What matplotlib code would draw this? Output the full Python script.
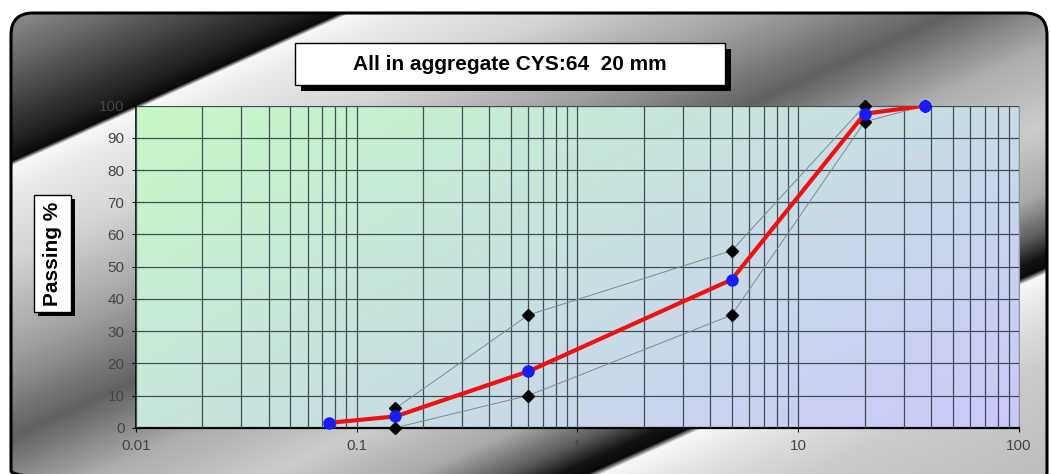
import matplotlib
matplotlib.use("Agg")
import matplotlib.pyplot as plt
import numpy as np
from matplotlib.patches import FancyBboxPatch, Rectangle

# sieve sizes (mm) and passing %
sieve_mm = [0.075, 0.15, 0.6, 5, 20, 37.5]
passing = [1.5, 3.5, 17.5, 46, 97.5, 100]

env_sieve = [0.15, 0.6, 5, 20, 37.5]
upper_limit = [6, 35, 55, 100, 100]
lower_limit = [0, 10, 35, 95, 100]

title = "All in aggregate CYS:64  20 mm"
ylabel = "Passing %"
x_ticks = [0.01, 0.1, 1, 10, 100]
x_tick_labels = ["0.01", "0.1", "1", "10", "100"]
y_ticks = list(range(0, 101, 10))

W, H = 1051, 474
plt.rcParams["font.family"] = ["Liberation Sans", "DejaVu Sans"]
fig = plt.figure(figsize=(W / 100, H / 100), dpi=100)

# metallic chart background, drawn in pixel coordinates
bg = fig.add_axes([0, 0, 1, 1])
bg.set_xlim(0, W)
bg.set_ylim(H, 0)
bg.axis("off")
xx, yy = np.meshgrid(np.arange(W), np.arange(H))
s = xx + 2.22 * yy
stops = [0, 150, 330, 368, 378, 430, 575, 800, 980, 1150, 1320, 1470, 1560, 1610, 1638, 1652, 1720, 1850, 2110]
shade = [0.62, 0.4, 0.12, 0.04, 0.97, 0.92, 0.84, 0.62, 0.38, 0.68, 0.8, 0.66, 0.35, 0.08, 0.04, 0.97, 0.9, 0.8, 0.74]
g = np.interp(s, stops, shade)
img = np.dstack([g, g, g])
im = bg.imshow(img, extent=[0, W, H, 0], aspect="auto", interpolation="bilinear", zorder=0)
frame = FancyBboxPatch((11, 13), 1036, 480, boxstyle="round,pad=0,rounding_size=22",
                       facecolor="none", edgecolor="black", linewidth=2.2, zorder=2)
bg.add_patch(frame)
im.set_clip_path(frame)

# title box with shadow
bg.add_patch(Rectangle((301, 49), 430, 42, facecolor="black", edgecolor="none", zorder=3))
bg.add_patch(Rectangle((295, 43), 430, 42, facecolor="white", edgecolor="black", linewidth=1, zorder=4))
bg.text(510, 64, title, ha="center", va="center", fontsize=15, fontweight="bold", zorder=5)

# y label box with shadow
bg.add_patch(Rectangle((38, 199), 37, 117, facecolor="black", edgecolor="none", zorder=3))
bg.add_patch(Rectangle((34, 195), 37, 117, facecolor="white", edgecolor="black", linewidth=1, zorder=4))
bg.text(53, 254, ylabel, ha="center", va="center", rotation=90, fontsize=15, fontweight="bold", zorder=5)

# plot area
ax = fig.add_axes([135.7 / W, 1 - 427.7 / H, (1019 - 135.7) / W, (427.7 - 105.7) / H])
ax.set_xscale("log")

# green (left/top) -> lavender (right/bottom) fill
u, v = np.meshgrid(np.linspace(0, 1, 300), np.linspace(0, 1, 150))
t = 0.62 * u + 0.38 * (1 - v)
c0 = np.array([198, 248, 198]) / 255
c1 = np.array([203, 200, 252]) / 255
grad = c0[None, None, :] * (1 - t[..., None]) + c1[None, None, :] * t[..., None]
ax.imshow(grad, extent=[0, 1, 0, 1], origin="lower", aspect="auto", transform=ax.transAxes, zorder=0)
ax.set_xlim(0.01, 100)
ax.set_ylim(0, 100)

ax.grid(True, which="both", axis="x", color="#3f4f56", linewidth=0.9, zorder=1)
ax.grid(True, which="major", axis="y", color="#3f4f56", linewidth=0.9, zorder=1)
ax.set_axisbelow(False)

ax.plot(env_sieve, upper_limit, color="#7d8a8f", linewidth=0.7, marker="D", markersize=6.5,
        markerfacecolor="black", markeredgecolor="black", zorder=3, clip_on=False)
ax.plot(env_sieve, lower_limit, color="#7d8a8f", linewidth=0.7, marker="D", markersize=6.5,
        markerfacecolor="black", markeredgecolor="black", zorder=3, clip_on=False)
ax.plot(sieve_mm, passing, color="#ee1111", linewidth=3, zorder=4, solid_capstyle="round")
ax.plot(sieve_mm, passing, linestyle="none", marker="o", markersize=8,
        markerfacecolor="#1a1aff", markeredgecolor="#1a1aff", zorder=5, clip_on=False)

ax.set_xticks(x_ticks)
ax.set_xticklabels(x_tick_labels)
ax.set_yticks(y_ticks)
ax.tick_params(axis="both", which="major", length=3, color="black", labelsize=11,
               labelcolor="#454545", pad=5)
ax.tick_params(axis="x", which="minor", length=0)

ax.spines["left"].set_color("black")
ax.spines["left"].set_linewidth(1.2)
ax.spines["bottom"].set_color("black")
ax.spines["bottom"].set_linewidth(1.6)
for side in ["top", "right"]:
    ax.spines[side].set_color("#8a9a9a")
    ax.spines[side].set_linewidth(0.8)

fig.savefig("out.png", dpi=100)
